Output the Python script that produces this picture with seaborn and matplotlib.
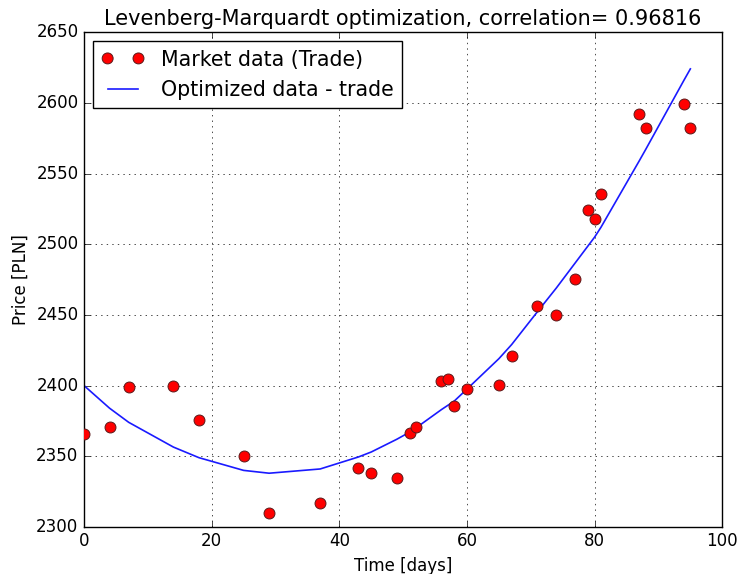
import matplotlib
matplotlib.use("Agg")
import matplotlib.pyplot as plt
import seaborn as sns
import pandas as pd

# Data
days = [0, 4, 7, 14, 18, 25, 29, 37, 43, 45, 49, 51, 52, 56, 57, 58, 60,
        65, 67, 71, 74, 77, 79, 80, 81, 87, 88, 94, 95]
market_price = [2366, 2371, 2399, 2400, 2375.5, 2350, 2310, 2317, 2342, 2338,
                2334.5, 2366.5, 2371, 2403.5, 2404.5, 2385.5, 2397.5, 2400.5,
                2421, 2456.5, 2450, 2475.5, 2524, 2518, 2535.5, 2592, 2582,
                2599.5, 2582]
optimized_price = [2400, 2384, 2374, 2356.5, 2349, 2340, 2338, 2341, 2349.5,
                   2353, 2362, 2367, 2370, 2383, 2386, 2389, 2397.5, 2419, 2429,
                   2452, 2469, 2487, 2499, 2505, 2512, 2559, 2567, 2616, 2624]
x_ticks = [0, 20, 40, 60, 80, 100]
y_ticks = [2300, 2350, 2400, 2450, 2500, 2550, 2600, 2650]
title = "Levenberg-Marquardt optimization, correlation= 0.96816"

df = pd.DataFrame({"days": days, "market": market_price, "fit": optimized_price})

plt.style.use("classic")
plt.rcParams["font.family"] = ["DejaVu Sans"]

fig = plt.figure(figsize=(7.37, 5.74), dpi=100, facecolor="white")
ax = fig.add_axes([0.114, 0.082, 0.866, 0.862])

sns.scatterplot(data=df, x="days", y="market", ax=ax, color="red",
                edgecolor="#5a1a1a", linewidth=0.7, s=62, zorder=3,
                label="Market data (Trade)")
sns.lineplot(data=df, x="days", y="fit", ax=ax, color="#1a1aff", lw=1.2,
             label="Optimized data - trade", zorder=2)

ax.set_xlim(0, 100)
ax.set_ylim(2300, 2650)
ax.set_xticks(x_ticks)
ax.set_yticks(y_ticks)
ax.tick_params(labelsize=12, direction="in", top=True, right=True)
ax.grid(True, color="black", linestyle=":", linewidth=0.5)
ax.set_axisbelow(True)
ax.set_xlabel("Time [days]", fontsize=12)
ax.set_ylabel("Price [PLN]", fontsize=12)
ax.set_title(title, fontsize=15)

leg = ax.legend(loc="upper left", fontsize=14.8, scatterpoints=2,
                scatteryoffsets=[0.5], fancybox=False, frameon=True,
                borderaxespad=0.45, handlelength=2.1)
leg.get_frame().set_edgecolor("black")

fig.savefig("out.png", dpi=100, facecolor="white")
